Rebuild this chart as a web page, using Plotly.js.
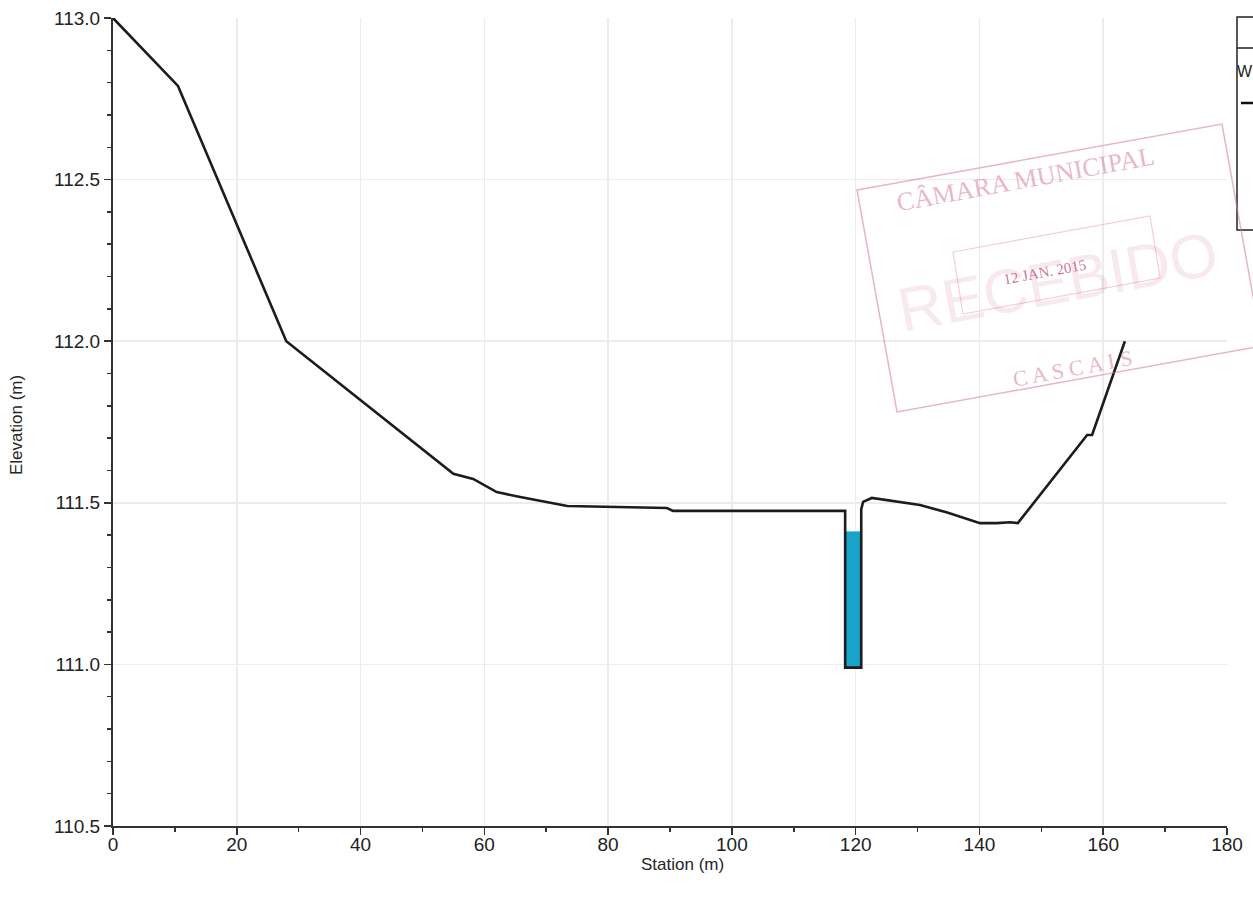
<!DOCTYPE html>
<html>
<head>
<meta charset="utf-8">
<script src="https://cdn.plot.ly/plotly-3.0.1.min.js"></script>
<style>
html,body{margin:0;padding:0;background:#fff;}
#chart{width:1253px;height:909px;}
</style>
</head>
<body>
<div id="chart"></div>
<script>
// ---- Data ----
const groundStation = [0, 10.5, 28, 55, 58.2, 62, 65.8, 73.4, 89.5, 90.5, 118.0, 118.3, 118.3, 120.9, 120.9, 121.2, 122.6, 127.2, 130.4, 134.8, 140.1, 142.8, 145.0, 146.2, 157.4, 158.2, 163.5];
const groundElev    = [113.0, 112.79, 112.0, 111.59, 111.574, 111.533, 111.518, 111.49, 111.484, 111.475, 111.475, 111.475, 110.99, 110.99, 111.48, 111.503, 111.515, 111.503, 111.493, 111.47, 111.437, 111.437, 111.44, 111.437, 111.71, 111.71, 112.0];
const waterStation  = [118.3, 120.9, 120.9, 118.3, 118.3];
const waterElev     = [111.41, 111.41, 110.99, 110.99, 111.41];
const xTickVals = [0, 20, 40, 60, 80, 100, 120, 140, 160, 180];
const yTickVals = [110.5, 111.0, 111.5, 112.0, 112.5, 113.0];
const xTitle = 'Station (m)';
const yTitle = 'Elevation (m)';
const legendLabel = "W";
const stampTexts = {top: "CÂMARA MUNICIPAL", date: "12 JAN. 2015", bottom: "C A S C A I S", big: "RECEBIDO"};

// ---- Layout helpers (pixel -> paper) ----
const L = 113, R = 1227, T = 18, B = 826;
const px = x => (x - L) / (R - L);
const py = y => (B - y) / (B - T);
const pathPx = pts => pts.map((p, i) => (i ? 'L' : 'M') + px(p[0]).toFixed(4) + ',' + py(p[1]).toFixed(4)).join(' ') + ' Z';

const stampColor = 'rgba(214,120,150,0.55)';
const stampAngle = -10.4;

const traces = [
  {
    x: waterStation, y: waterElev, type: 'scatter', mode: 'lines',
    fill: 'toself', fillcolor: '#17a4c8',
    line: {color: '#17a4c8', width: 1}, hoverinfo: 'skip', showlegend: false
  },
  {
    x: groundStation, y: groundElev, type: 'scatter', mode: 'lines',
    line: {color: '#1c1c1c', width: 2.6}, showlegend: false
  }
];

const tickFont = {family: 'Liberation Sans, Arial, sans-serif', size: 19, color: '#222'};
const titleFont = {family: 'Liberation Sans, Arial, sans-serif', size: 17, color: '#262626'};

const stampAnn = (x, y, text, font) => ({xref: 'paper', yref: 'paper', x: px(x), y: py(y), xanchor: 'center', yanchor: 'middle',
  text: text, showarrow: false, textangle: stampAngle, font: font});

const layout = {
  width: 1253, height: 909,
  margin: {l: L, r: 1253 - R, t: T, b: 909 - B},
  paper_bgcolor: '#ffffff', plot_bgcolor: '#ffffff',
  showlegend: false,
  xaxis: {
    range: [0, 180], tickvals: xTickVals, ticktext: xTickVals.map(String),
    ticks: 'outside', ticklen: 7, tickwidth: 1.5, tickcolor: '#333',
    minor: {dtick: 10, ticks: 'outside', ticklen: 4, tickcolor: '#333', showgrid: false},
    showline: true, linecolor: '#333', linewidth: 2,
    showgrid: true, gridcolor: '#ececec', gridwidth: 1.5,
    zeroline: false, tickfont: tickFont, ticklabelstandoff: -7
  },
  yaxis: {
    range: [110.5, 113.0], tickvals: yTickVals, ticktext: yTickVals.map(v => v.toFixed(1)),
    ticks: 'outside', ticklen: 7, tickwidth: 1.5, tickcolor: '#333',
    minor: {dtick: 0.1, ticks: 'outside', ticklen: 4, tickcolor: '#333', showgrid: false},
    showline: true, linecolor: '#333', linewidth: 2,
    showgrid: true, gridcolor: '#ececec', gridwidth: 1.5,
    zeroline: false, tickfont: tickFont
  },
  shapes: [
    // legend box (cut off at right edge)
    {type: 'rect', xref: 'paper', yref: 'paper', x0: px(1237), x1: px(1270), y0: py(230), y1: py(17),
     line: {color: '#222', width: 1.5}, fillcolor: 'rgba(255,255,255,0)', layer: 'above'},
    {type: 'line', xref: 'paper', yref: 'paper', x0: px(1237), x1: px(1270), y0: py(48), y1: py(48),
     line: {color: '#222', width: 1.5}, layer: 'above'},
    {type: 'line', xref: 'paper', yref: 'paper', x0: px(1241), x1: px(1270), y0: py(103), y1: py(103),
     line: {color: '#111', width: 2.5}, layer: 'above'},
    // stamp outer rectangle
    {type: 'path', xref: 'paper', yref: 'paper', path: pathPx([[857,190],[1222,124],[1262,346],[897,412]]),
     line: {color: stampColor, width: 1.5}, layer: 'above'},
    // stamp inner box
    {type: 'path', xref: 'paper', yref: 'paper', path: pathPx([[953,252],[1150,216],[1160,278],[963,314]]),
     line: {color: 'rgba(214,120,150,0.35)', width: 1.2}, layer: 'above'}
  ],
  annotations: [
    {xref: 'paper', yref: 'paper', x: px(682), y: py(864), xanchor: 'center', yanchor: 'middle',
     text: xTitle, showarrow: false, font: titleFont},
    {xref: 'paper', yref: 'paper', x: px(16), y: py(425), xanchor: 'center', yanchor: 'middle', textangle: -90,
     text: yTitle, showarrow: false, font: titleFont},
    {xref: 'paper', yref: 'paper', x: px(1236), y: py(72), xanchor: 'left', yanchor: 'middle', borderpad: 0,
     text: legendLabel, showarrow: false, font: {family: 'Liberation Sans, Arial, sans-serif', size: 16, color: '#222'}},
    // stamp texts
    stampAnn(1058, 282, stampTexts.big, {family: 'Liberation Sans, sans-serif', size: 62, color: 'rgba(214,120,150,0.16)'}),
    stampAnn(1025, 180, stampTexts.top, {family: 'Liberation Serif, serif', size: 26, color: stampColor}),
    stampAnn(1045, 272, stampTexts.date, {family: 'Liberation Serif, serif', size: 15, color: 'rgba(190,70,110,0.75)'}),
    stampAnn(1072, 368, stampTexts.bottom, {family: 'Liberation Serif, serif', size: 22, color: stampColor})
  ]
};

Plotly.newPlot('chart', traces, layout, {displayModeBar: false, staticPlot: true});
</script>
</body>
</html>
